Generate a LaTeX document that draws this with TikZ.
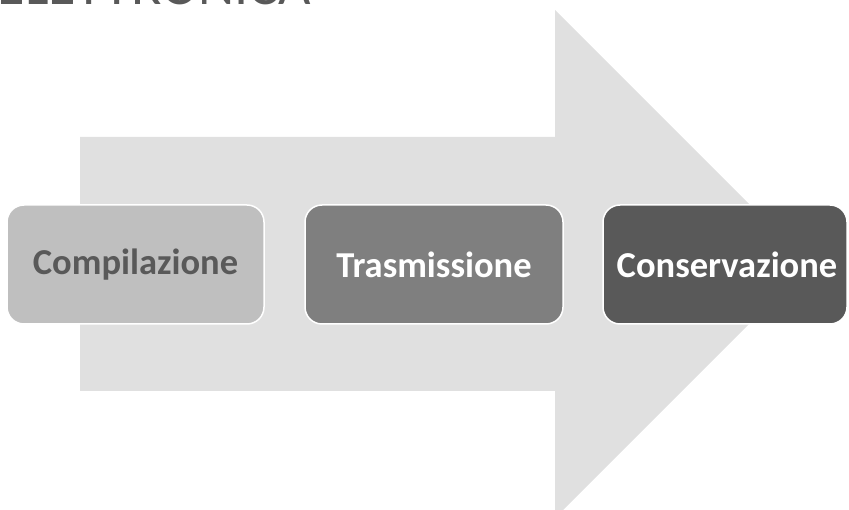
\documentclass[tikz,border=0pt]{standalone}
\usepackage{fontspec}
\setmainfont{Carlito}
\definecolor{arrowgray}{HTML}{E0E0E0}
\definecolor{boxA}{HTML}{BFBFBF}
\definecolor{boxB}{HTML}{7F7F7F}
\definecolor{boxC}{HTML}{595959}
\definecolor{txtdark}{HTML}{595959}
\begin{document}
\begin{tikzpicture}[x=1pt,y=-1pt,
  stagebox/.style={draw=white, line width=1.5pt, rounded corners=17pt, inner sep=0pt, anchor=north west},
  stagetext/.style={font=\fontsize{36.5}{40}\selectfont\bfseries, inner sep=0pt}]
\useasboundingbox (0,0) rectangle (849,510);
\begin{scope}
\clip (0,0) rectangle (849,510);
% big arrow
\fill[arrowgray] (80,137) -- (555,137) -- (555,10) -- (809,264) -- (555,518) -- (555,391) -- (80,391) -- cycle;
% title (cut off)
\node[anchor=base east, inner sep=0pt, text=txtdark, font=\fontsize{56}{60}\selectfont] (title) at (311,4.5) {ELETTRONICA};
% boxes
\draw[stagebox, fill=boxA] (7,205) rectangle (264,324);
\draw[stagebox, fill=boxB] (305,205) rectangle (563,324);
\draw[stagebox, fill=boxC] (603,205) rectangle (847,324);
\node[stagetext, text=txtdark] (comp) at (135.5,264.5) {Compilazione};
\node[stagetext, text=white] (tras) at (434,264.5) {Trasmissione};
\node[stagetext, text=white] (cons) at (727,264.5) {Conservazione};
\end{scope}
\end{tikzpicture}
\end{document}
